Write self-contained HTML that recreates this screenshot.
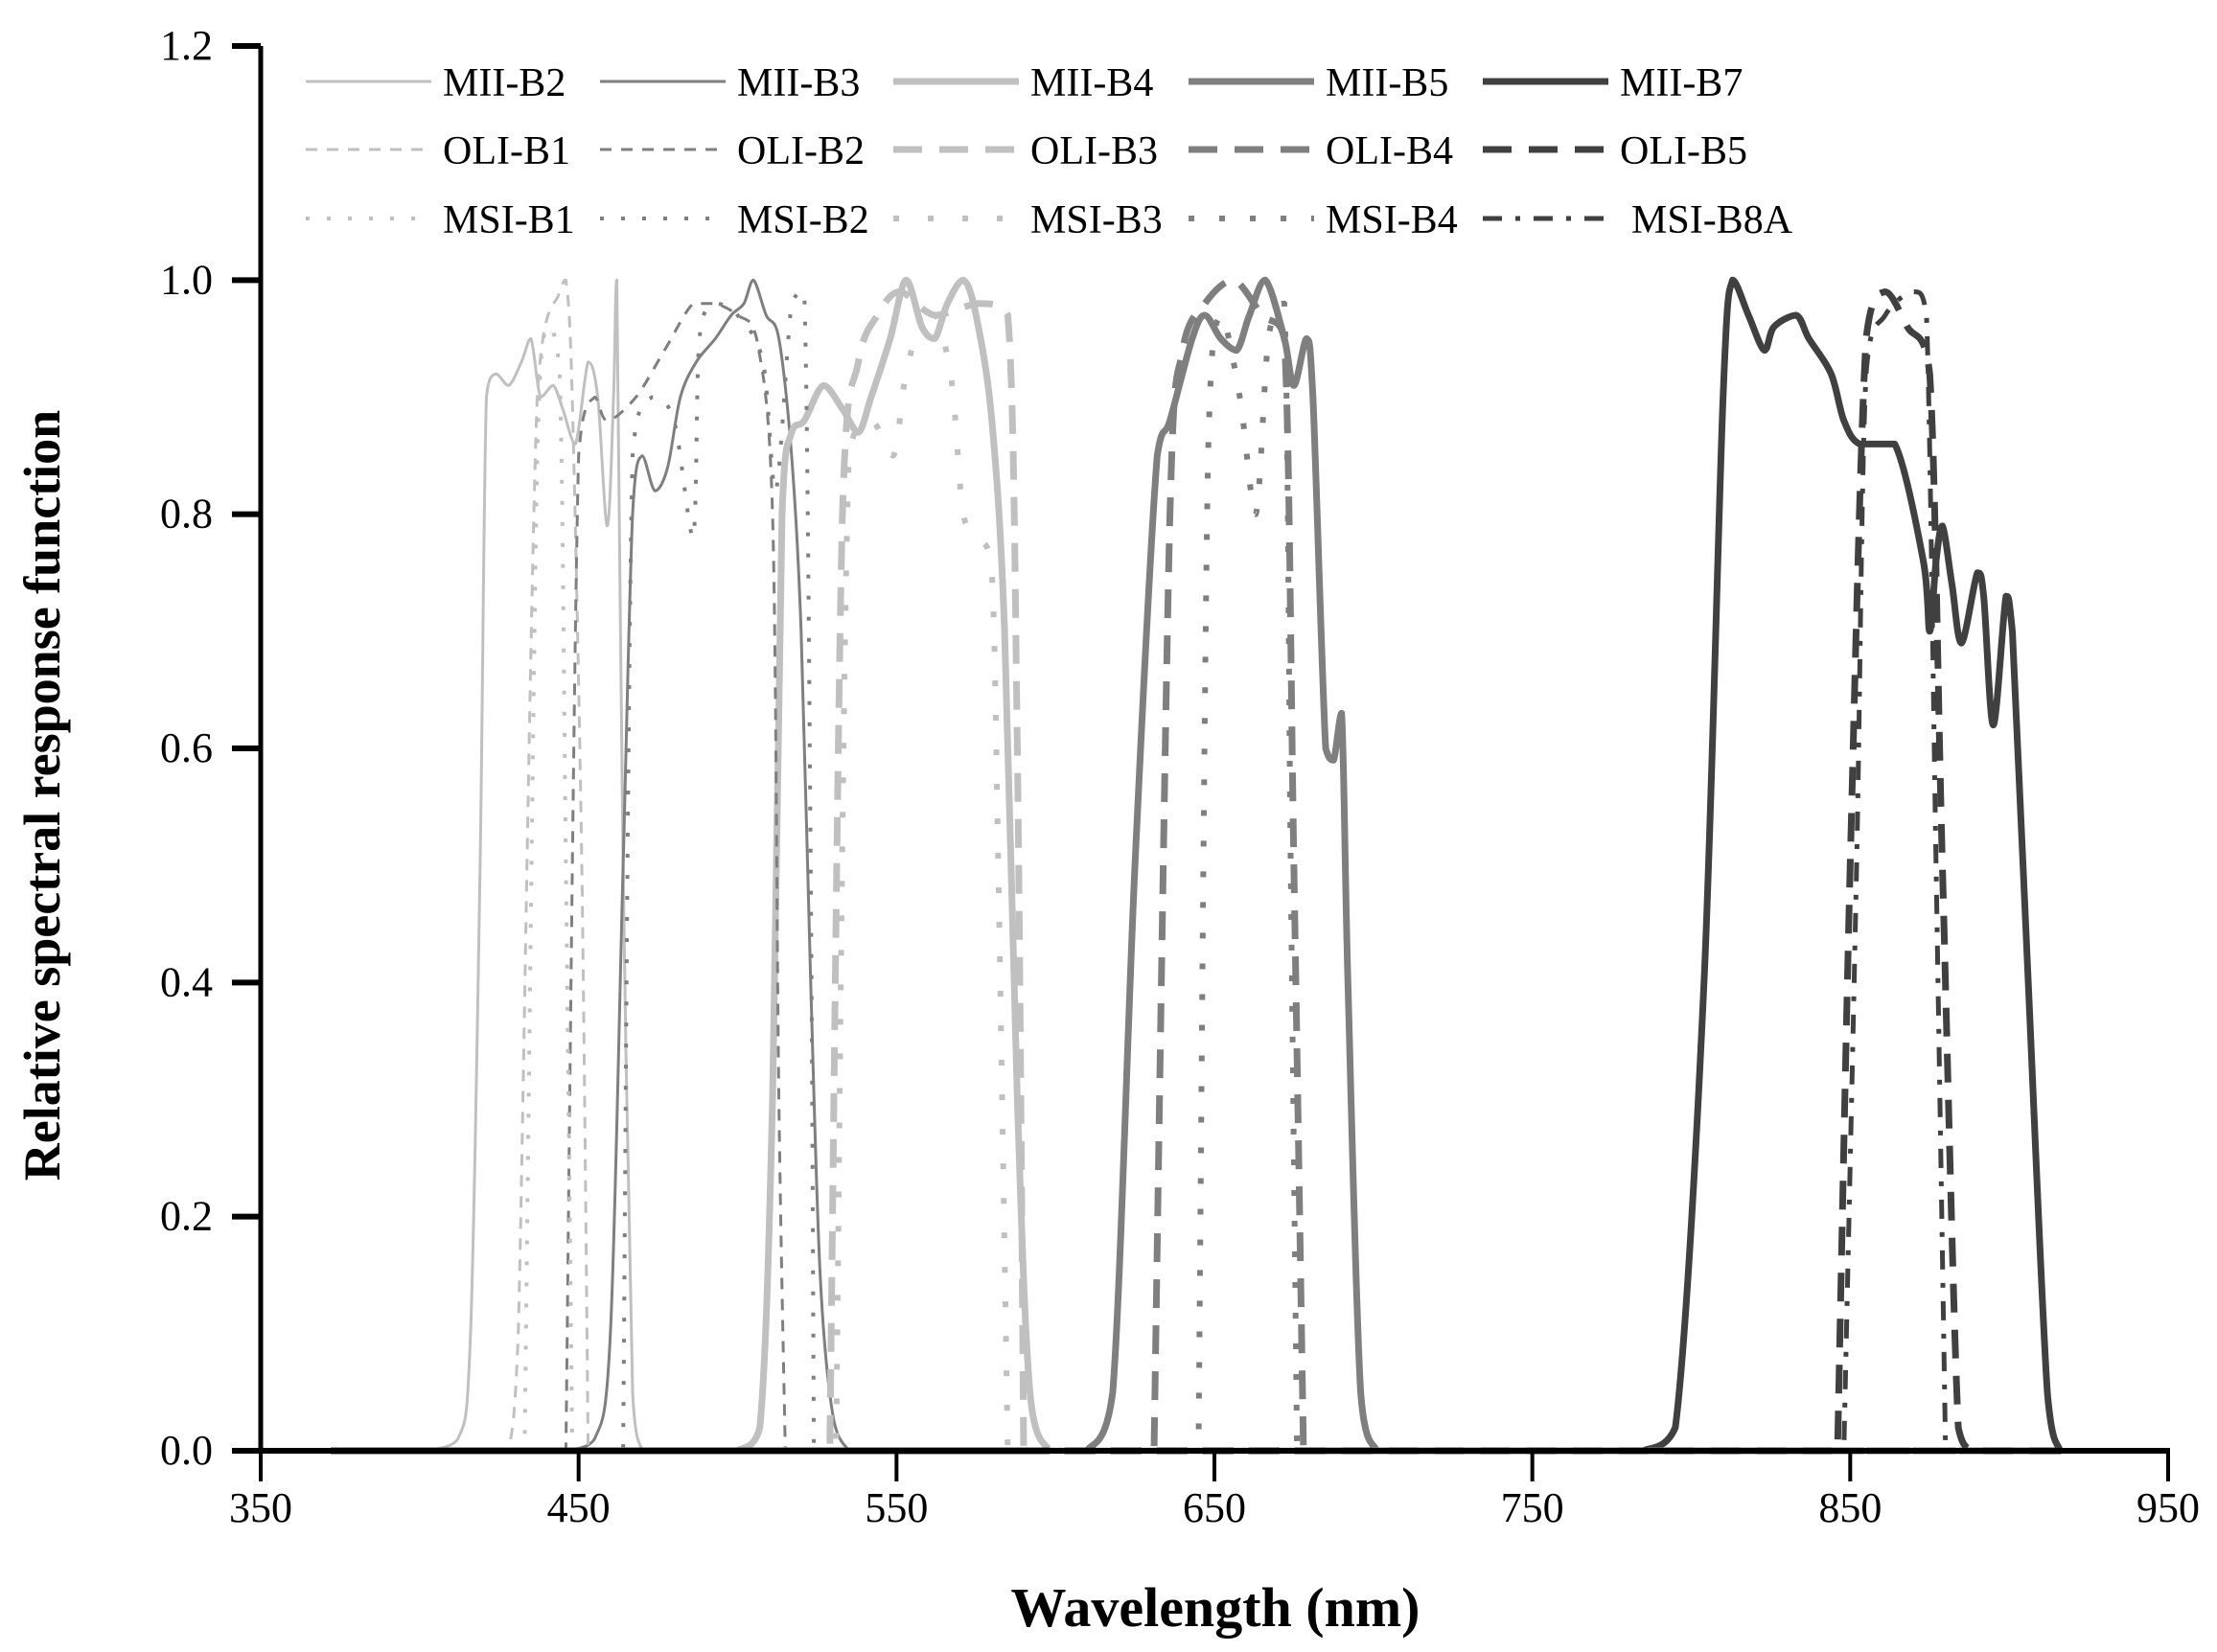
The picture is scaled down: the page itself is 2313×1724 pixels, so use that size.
<!DOCTYPE html>
<html><head><meta charset="utf-8"><style>
html,body{margin:0;padding:0;background:#fff;}
svg{display:block;font-family:"Liberation Serif",serif;}
</style></head><body>
<svg id="chart" width="2313" height="1724" viewBox="0 0 2313 1724" xmlns="http://www.w3.org/2000/svg">
<g id="plot"></g>
<g id="axes"></g>
<g id="legend"></g>
<text x="1268" y="1697" text-anchor="middle" font-size="58" font-weight="bold">Wavelength (nm)</text>
<text transform="translate(62,830) rotate(-90)" text-anchor="middle" font-size="54" font-weight="bold">Relative spectral response function</text>
</svg>
<script>
const xTicks=[350,450,550,650,750,850,950];
const yTicks=[0.0,0.2,0.4,0.6,0.8,1.0,1.2];
const seriesNames=["MII-B2","MII-B3","MII-B4","MII-B5","MII-B7","OLI-B1","OLI-B2","OLI-B3","OLI-B4","OLI-B5","MSI-B1","MSI-B2","MSI-B3","MSI-B4","MSI-B8A"];
const miiB2=[[400,0],[412,0.01],[416,0.1],[419,0.5],[421,0.9],[424,0.92],[428,0.91],[432,0.93],[435,0.95],[438,0.9],[442,0.91],[445,0.89],[449,0.86],[453,0.93],[456,0.9],[459,0.79],[461,0.9],[462,1.0],[464,0.5],[467,0.05],[470,0]];
const miiB3=[[445,0],[455,0.01],[460,0.1],[464,0.5],[467,0.8],[470,0.85],[474,0.82],[478,0.84],[482,0.9],[487,0.93],[493,0.95],[498,0.97],[502,0.98],[505,1.0],[509,0.97],[513,0.95],[517,0.85],[520,0.7],[523,0.4],[526,0.15],[530,0.03],[535,0]];
const miiB4=[[500,0],[507,0.02],[511,0.3],[514,0.8],[517,0.87],[521,0.88],[527,0.91],[533,0.89],[538,0.87],[542,0.9],[548,0.95],[553,1.0],[558,0.96],[562,0.95],[566,0.98],[571,1.0],[575,0.97],[580,0.88],[584,0.7],[588,0.3],[592,0.05],[598,0]];
const miiB5=[[610,0],[618,0.05],[625,0.5],[632,0.85],[636,0.88],[643,0.95],[647,0.97],[652,0.95],[657,0.94],[661,0.97],[666,1.0],[672,0.95],[675,0.91],[679,0.95],[681,0.9],[685,0.6],[687.5,0.59],[690,0.63],[692,0.4],[696,0.05],[701,0]];
const miiB7=[[785,0],[795,0.02],[804,0.4],[810,0.9],[813,1.0],[818,0.97],[823,0.94],[826,0.96],[833,0.97],[837,0.95],[844,0.92],[848,0.88],[853,0.86],[864,0.86],[873,0.76],[875,0.7],[877,0.76],[879,0.79],[882,0.74],[885,0.69],[890,0.75],[892,0.73],[895,0.62],[899,0.73],[901,0.7],[906,0.4],[912,0.05],[916,0]];
const oliB1=[[428,0],[431,0.1],[437,0.9],[444,0.99],[446,1.0],[448,0.9],[451,0.5],[453,0]];
const oliB2=[[446,0],[450,0.85],[455,0.9],[459,0.88],[468,0.9],[477,0.94],[486,0.98],[493,0.98],[500,0.97],[506,0.95],[511,0.8],[513,0.3],[515,0]];
const oliB3=[[529,0],[533,0.8],[538,0.93],[544,0.97],[551,0.99],[562,0.97],[576,0.98],[585,0.97],[588,0.6],[590,0]];
const oliB4=[[631,0],[636,0.8],[640,0.94],[647,0.98],[656,1.0],[665,0.97],[672,0.95],[675,0.5],[678,0]];
const oliB5=[[846,0],[850,0.5],[855,0.95],[861,0.99],[868,0.96],[875,0.92],[879,0.5],[884,0.02],[888,0]];
const msiB1=[[433,0],[437,0.85],[440,0.96],[444,0.92],[446,0.5],[448,0]];
const msiB2=[[464,0],[467,0.85],[473,0.9],[480,0.88],[486,0.78],[488,0.95],[493,0.98],[500,0.97],[508,0.93],[512,0.82],[517,0.98],[521,0.99],[523,0.5],[524,0]];
const msiB3=[[531,0],[535,0.85],[542,0.88],[549,0.85],[553,0.92],[560,0.98],[567,0.92],[571,0.8],[576,0.78],[580,0.75],[582,0.5],[585,0]];
const msiB4=[[645,0],[648,0.85],[652,0.97],[658,0.9],[663,0.8],[667,0.95],[672,0.98],[674,0.5],[676,0]];
const msiB8A=[[848,0],[852,0.5],[855,0.92],[861,0.97],[870,0.99],[874,0.97],[877,0.5],[880,0]];
const seriesData=[miiB2,miiB3,miiB4,miiB5,miiB7,oliB1,oliB2,oliB3,oliB4,oliB5,msiB1,msiB2,msiB3,msiB4,msiB8A];

const NS="http://www.w3.org/2000/svg";
const X0=272,X1=2262,Y0=1514,Y1=48;
const xs=v=>X0+(v-350)/600*(X1-X0);
const ys=v=>Y0-v/1.2*(Y0-Y1);
const LIGHT="#c0c0c0",MID="#7f7f7f",DARK="#404040";
const styles=[
 {c:LIGHT,w:3,d:""},{c:MID,w:3,d:""},{c:LIGHT,w:7,d:""},{c:MID,w:7,d:""},{c:DARK,w:7,d:""},
 {c:LIGHT,w:3,d:"12 10"},{c:MID,w:3,d:"12 10"},{c:LIGHT,w:7,d:"30 18"},{c:MID,w:7,d:"30 18"},{c:DARK,w:7,d:"30 18"},
 {c:LIGHT,w:4,d:"4 18"},{c:MID,w:4,d:"4 18"},{c:LIGHT,w:6,d:"6 30"},{c:MID,w:6,d:"6 26"},{c:DARK,w:5,d:"20 14 5 14"}
];
function mk(tag,attrs,parent){const e=document.createElementNS(NS,tag);for(const k in attrs)e.setAttribute(k,attrs[k]);parent.appendChild(e);return e;}
const clamp=(v,a,b)=>Math.min(Math.max(v,Math.min(a,b)),Math.max(a,b));
function smooth(P){
  let d='M'+P[0][0].toFixed(1)+','+P[0][1].toFixed(1);
  const t=0.16;
  for(let i=0;i<P.length-1;i++){
    const p0=P[Math.max(0,i-1)],p1=P[i],p2=P[i+1],p3=P[Math.min(P.length-1,i+2)];
    const c1=[clamp(p1[0]+(p2[0]-p0[0])*t,p1[0],p2[0]),clamp(p1[1]+(p2[1]-p0[1])*t,p1[1],p2[1])];
    const c2=[clamp(p2[0]-(p3[0]-p1[0])*t,p1[0],p2[0]),clamp(p2[1]-(p3[1]-p1[1])*t,p1[1],p2[1])];
    d+=' C'+c1[0].toFixed(1)+','+c1[1].toFixed(1)+' '+c2[0].toFixed(1)+','+c2[1].toFixed(1)+' '+p2[0].toFixed(1)+','+p2[1].toFixed(1);
  }
  return d;
}
const plot=document.getElementById('plot'),axes=document.getElementById('axes'),legend=document.getElementById('legend');

seriesData.forEach((pts,i)=>{
  const all=pts.map(p=>[xs(p[0]),ys(p[1])]);
  const s=styles[i];
  const y0=ys(0);
  const d='M'+xs(372).toFixed(1)+','+y0.toFixed(1)+' L'+all[0][0].toFixed(1)+','+all[0][1].toFixed(1)+' '+smooth(all).replace(/^M[^ ]+/,'')+' L'+xs(915).toFixed(1)+','+y0.toFixed(1);
  const p=mk('path',{d:d,fill:'none',stroke:s.c,'stroke-width':s.w,'stroke-dasharray':s.d,'stroke-linejoin':'round'},plot);
  
  
});

const ya=mk('line',{x1:X0,y1:Y1,x2:X0,y2:Y0+2,stroke:'#000','stroke-width':5},axes);


const xa=mk('line',{x1:X0-30,y1:Y0,x2:X1+2,y2:Y0,stroke:'#000','stroke-width':6},axes);


yTicks.forEach(v=>{
  const t=mk('line',{x1:X0-30,y1:ys(v),x2:X0,y2:ys(v),stroke:'#000','stroke-width':6},axes);
  
  
  const l=mk('text',{x:222,y:ys(v)+14,'text-anchor':'end','font-size':44},axes);
  l.textContent=v.toFixed(1);
  
  
});
xTicks.forEach(v=>{
  const t=mk('line',{x1:xs(v),y1:Y0,x2:xs(v),y2:Y0+32,stroke:'#000','stroke-width':4},axes);
  
  
  const l=mk('text',{x:xs(v),y:1588,'text-anchor':'middle','font-size':44},axes);
  l.textContent=String(v);
  
  
});

const colX=[319,626,932,1240,1547],rowY=[85,156,228];
seriesNames.forEach((n,i)=>{
  const r=Math.floor(i/5),c=i%5,s=styles[i];
  const g=mk('g',{},legend);
  
  
  mk('line',{x1:colX[c],y1:rowY[r],x2:colX[c]+131,y2:rowY[r],stroke:s.c,'stroke-width':s.w,'stroke-dasharray':s.d},g);
  const t=mk('text',{x:colX[c]+143+(n==='MSI-B8A'?12:0),y:rowY[r]+15,'font-size':42},g);
  t.textContent=n;
});
</script>
</body></html>
